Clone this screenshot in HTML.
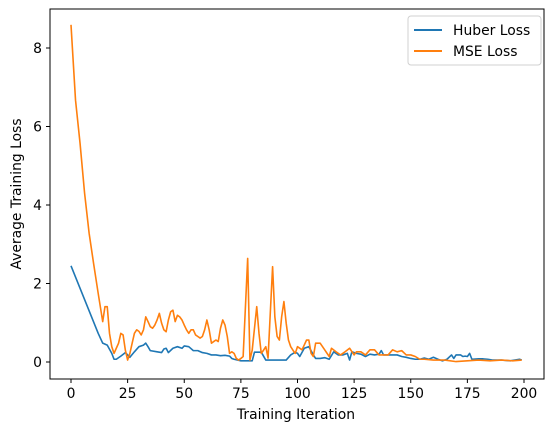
<!DOCTYPE html>
<html><head><meta charset="utf-8"><style>
html,body{margin:0;padding:0;background:#fff;}
svg{display:block;font-family:"DejaVu Sans","Liberation Sans",sans-serif;}
</style></head><body>
<svg id="chart" width="554" height="432" viewBox="0 0 554 432" xmlns="http://www.w3.org/2000/svg">
<rect x="0" y="0" width="554" height="432" fill="#fff"/>
<g id="plot"></g>
<g id="axes"></g>
<text x="296" y="419" font-size="13.9" text-anchor="middle" fill="#000">Training Iteration</text>
<text transform="translate(21,194) rotate(-90)" font-size="13.9" text-anchor="middle" fill="#000">Average Training Loss</text>
<g>
<rect x="408" y="16" width="133" height="49" rx="3" fill="#fff" stroke="#d0d0d0"/>
<line x1="414" y1="30" x2="442" y2="30" stroke="#1f77b4" stroke-width="2"/>
<text x="453" y="35" font-size="13.9">Huber Loss</text>
<line x1="414" y1="51" x2="442" y2="51" stroke="#ff7f0e" stroke-width="2"/>
<text x="453" y="56" font-size="13.9">MSE Loss</text>
</g>
</svg>
<script>
const huberIter=[0,12,14,16,18,19,20,22,24,25,26,28,30,32,33,34,35,38,40,41,42,43,45,47,49,50,52,54,56,58,60,62,64,66,68,70,71,72,75,78,80,81,84,86,95,97,99,100,101,103,105,107,108,110,112,114,116,118,120,122,123,124,126,128,130,132,134,136,137,138,140,144,146,148,150,152,154,156,158,160,162,164,166,168,169,170,172,173,174,175,176,177,180,182,184,186,190,194,196,198,199];
const huberLoss=[2.45,0.73,0.48,0.43,0.22,0.07,0.07,0.15,0.24,0.18,0.12,0.26,0.39,0.43,0.48,0.39,0.29,0.26,0.24,0.33,0.35,0.24,0.35,0.39,0.35,0.41,0.39,0.29,0.29,0.24,0.22,0.18,0.18,0.16,0.17,0.15,0.09,0.07,0.03,0.03,0.03,0.25,0.25,0.05,0.05,0.18,0.25,0.22,0.14,0.35,0.39,0.18,0.09,0.09,0.11,0.07,0.26,0.18,0.18,0.22,0.05,0.26,0.22,0.20,0.14,0.20,0.18,0.20,0.29,0.18,0.18,0.18,0.14,0.12,0.09,0.07,0.07,0.10,0.07,0.12,0.07,0.03,0.07,0.18,0.09,0.18,0.18,0.14,0.15,0.14,0.22,0.07,0.08,0.08,0.07,0.05,0.05,0.03,0.05,0.07,0.05];
const mseIter=[0,2,4,6,8,10,12,14,15,16,17,18,19,20,21,22,23,24,25,26,27,28,29,30,31,32,33,34,35,36,37,38,39,40,41,42,43,44,45,46,47,48,49,50,51,52,53,54,55,56,57,58,59,60,61,62,63,64,65,66,67,68,69,70,71,72,73,74,75,76,78,79,80,82,83,84,85,86,87,89,90,91,92,93,94,95,96,97,98,99,100,102,104,105,106,107,108,110,112,114,115,117,119,121,123,125,126,128,130,132,134,136,138,140,142,144,146,148,150,152,154,156,160,165,170,175,180,185,190,195,199];
const mseLoss=[8.59,6.67,5.57,4.3,3.28,2.5,1.75,1.03,1.41,1.41,0.73,0.39,0.22,0.35,0.48,0.73,0.69,0.3,0.05,0.22,0.48,0.73,0.82,0.78,0.69,0.82,1.15,1.03,0.9,0.86,0.94,1.07,1.24,0.99,0.82,0.77,1.07,1.28,1.32,1.03,1.19,1.15,1.07,0.94,0.82,0.73,0.82,0.82,0.69,0.65,0.61,0.65,0.82,1.07,0.82,0.48,0.52,0.56,0.52,0.86,1.07,0.94,0.65,0.22,0.26,0.22,0.09,0.05,0.09,0.14,2.64,0.05,0.3,1.41,0.73,0.22,0.3,0.39,0.1,2.43,1.15,0.65,0.56,1.15,1.54,0.99,0.56,0.39,0.3,0.22,0.39,0.31,0.56,0.56,0.22,0.14,0.48,0.48,0.31,0.14,0.35,0.26,0.18,0.26,0.35,0.18,0.26,0.26,0.18,0.31,0.31,0.18,0.18,0.18,0.31,0.26,0.29,0.18,0.18,0.14,0.07,0.07,0.05,0.05,0.01,0.03,0.05,0.03,0.05,0.03,0.05];
const xTicks=[0,25,50,75,100,125,150,175,200];
const yTicks=[0,2,4,6,8];

const NS="http://www.w3.org/2000/svg";
const L=50,R=544,T=9,B=379;
function xs(v){return 71+(v-0)*(524-71)/200;}
function ys(v){return 362-v*39.25;}
const plot=document.getElementById('plot');
const axes=document.getElementById('axes');
function mk(tag,attrs,parent){const e=document.createElementNS(NS,tag);for(const k in attrs)e.setAttribute(k,attrs[k]);parent.appendChild(e);return e;}
function series(it,vals,color,name){
  const d=it.map((x,i)=>(i?'L':'M')+xs(x).toFixed(2)+','+ys(vals[i]).toFixed(2)).join(' ');
  const p=mk('path',{d:d,fill:'none',stroke:color,'stroke-width':1.6,'stroke-linejoin':'round'},plot);
  
  
}
series(huberIter,huberLoss,'#1f77b4','huber-loss-line');
series(mseIter,mseLoss,'#ff7f0e','mse-loss-line');
const frame=mk('rect',{x:L,y:T,width:R-L,height:B-T,fill:'none',stroke:'#000','stroke-width':1},axes);


xTicks.forEach(t=>{
  const x=xs(t);
  mk('line',{x1:x,y1:B,x2:x,y2:B+4,stroke:'#000'},axes);
  const tx=mk('text',{x:x,y:B+19,'font-size':13.9,'text-anchor':'middle'},axes);
  tx.textContent=t;
  
  
});
yTicks.forEach(t=>{
  const y=ys(t);
  mk('line',{x1:L-4,y1:y,x2:L,y2:y,stroke:'#000'},axes);
  const tx=mk('text',{x:L-8,y:y+5,'font-size':13.9,'text-anchor':'end'},axes);
  tx.textContent=t;
  
  
});
</script>
</body></html>
